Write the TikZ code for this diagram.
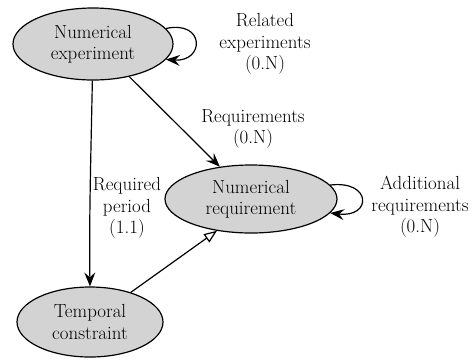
\documentclass[tikz,border=0pt]{standalone}
\usetikzlibrary{shapes.geometric,arrows.meta}
\definecolor{nodefill}{RGB}{211,211,211}
\begin{document}
\begin{tikzpicture}[x=1bp,y=-1bp,
  ent/.style={ellipse,draw,fill=nodefill,line width=1.2pt,inner sep=0pt,align=center,font=\fontsize{19}{21.5}\selectfont},
  lbl/.style={align=center,font=\fontsize{19}{21.5}\selectfont,inner sep=0pt},
  arr/.style={line width=1.2pt,-{Stealth[length=14pt,width=11pt,inset=5pt]}},
  inh/.style={line width=1.2pt,-{Triangle[open,length=13pt,width=10pt]}}]
\useasboundingbox (0,0) rectangle (472,359);
\node[ent,minimum width=160bp,minimum height=72bp] (exp) at (93,44) {Numerical\\experiment};
\node[ent,minimum width=172bp,minimum height=68bp] (req) at (251,199) {Numerical\\requirement};
\node[ent,minimum width=146bp,minimum height=70bp] (tmp) at (90,322) {Temporal\\constraint};
\node[lbl] (l1) at (265,44) {Related\\experiments\\(0.N)};
\node[lbl] (l2) at (253,129) {Requirements\\(0.N)};
\node[lbl] (l3) at (127,208) {Required\\period\\(1.1)};
\node[lbl] (l4) at (420,207) {Additional\\requirements\\(0.N)};
\draw[arr] (exp.-42) -- (req.134);
\draw[arr] (exp.-91) .. controls (91,150) and (89,220) .. (tmp.north);
\draw[inh] (tmp.36) -- (req.-137);
\draw[arr] (exp.12) .. controls (205,20) and (205,62) .. (exp.-12);
\draw[arr] (req.10) .. controls (372,180) and (372,218) .. (req.-10);
\end{tikzpicture}
\end{document}
